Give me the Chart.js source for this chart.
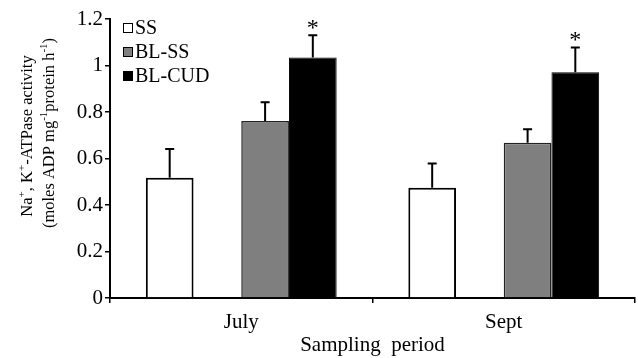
<!DOCTYPE html>
<html lang="en">
<head>
  <meta charset="utf-8">
  <title>ATPase activity</title>
  <script src="https://cdn.jsdelivr.net/npm/chart.js@4"></script>
  <style>
    body { margin: 0; background: #fff; }
    #wrap { width: 638px; height: 358px; }
  </style>
</head>
<body>
  <div id="wrap"><canvas id="myChart"></canvas></div>
  <script>
    // values
    const categories = ['July', 'Sept'];
    const ssMean = [0.517, 0.474];
    const ssErr = [0.124, 0.104];
    const blssMean = [0.761, 0.668];
    const blssErr = [0.081, 0.058];
    const blcudMean = [1.034, 0.971];
    const blcudErr = [0.096, 0.106];
    const blcudStar = [true, true];
    const yTicks = [0, 0.2, 0.4, 0.6, 0.8, 1, 1.2];

    const serif = "'Liberation Serif', 'Times New Roman', serif";

    // error bars + asterisks
    const errorBars = {
      id: 'errorBars',
      afterDatasetsDraw(chart) {
        const ctx = chart.ctx;
        const y = chart.scales.y;
        ctx.save();
        ctx.strokeStyle = '#000';
        ctx.fillStyle = '#000';
        ctx.lineWidth = 2;
        chart.data.datasets.forEach((ds, i) => {
          if (!ds.errors) return;
          chart.getDatasetMeta(i).data.forEach((bar, j) => {
            const top = y.getPixelForValue(ds.data[j] + ds.errors[j]);
            ctx.beginPath();
            ctx.moveTo(bar.x, bar.y);
            ctx.lineTo(bar.x, top);
            ctx.moveTo(bar.x - 4.5, top);
            ctx.lineTo(bar.x + 4.5, top);
            ctx.stroke();
            if (ds.stars && ds.stars[j]) {
              ctx.font = '24px ' + serif;
              ctx.textAlign = 'center';
              ctx.textBaseline = 'middle';
              ctx.fillText('*', bar.x, top - 7);
            }
          });
        });
        ctx.restore();
      }
    };

    // legend inside the plot, top left
    const boxLegend = {
      id: 'boxLegend',
      afterDraw(chart) {
        const ctx = chart.ctx;
        ctx.save();
        ctx.font = '20px ' + serif;
        ctx.textBaseline = 'middle';
        ctx.textAlign = 'left';
        let row = 0;
        chart.data.datasets.forEach(ds => {
          if (!ds.label) return;
          const cy = 28 + row * 24;
          ctx.fillStyle = ds.backgroundColor;
          ctx.fillRect(123.5, cy - 4.5, 9, 9);
          ctx.strokeStyle = '#000';
          ctx.lineWidth = 1;
          ctx.strokeRect(123.5, cy - 4.5, 9, 9);
          ctx.fillStyle = '#000';
          ctx.fillText(ds.label, 135, cy + 1);
          row++;
        });
        ctx.restore();
      }
    };

    // two-line rotated y title with superscripts
    function richLine(ctx, parts, bx, cy) {
      const big = '16.5px ' + serif, small = '11px ' + serif;
      let w = 0;
      parts.forEach(p => { ctx.font = p.sup ? small : big; w += ctx.measureText(p.t).width; });
      ctx.save();
      ctx.translate(bx, cy);
      ctx.rotate(-Math.PI / 2);
      let u = -w / 2;
      parts.forEach(p => {
        ctx.font = p.sup ? small : big;
        ctx.fillText(p.t, u, p.sup ? -7 : 0);
        u += ctx.measureText(p.t).width;
      });
      ctx.restore();
    }
    const yTitle = {
      id: 'yTitle',
      afterDraw(chart) {
        const ctx = chart.ctx;
        ctx.save();
        ctx.fillStyle = '#000';
        ctx.textBaseline = 'alphabetic';
        ctx.textAlign = 'left';
        richLine(ctx, [{t: 'Na'}, {t: '+', sup: true}, {t: ', K'}, {t: '+', sup: true}, {t: '-ATPase activity'}], 32, 136);
        richLine(ctx, [{t: '(moles ADP mg'}, {t: '-1', sup: true}, {t: 'protein h'}, {t: '-1', sup: true}, {t: ')'}], 54, 133);
        ctx.restore();
      }
    };

    new Chart(document.getElementById('myChart'), {
      type: 'bar',
      data: {
        labels: categories,
        datasets: [
          { label: 'SS', data: ssMean, errors: ssErr, backgroundColor: '#ffffff', borderColor: '#000', borderWidth: 2 },
          { label: '', data: [null, null], backgroundColor: 'rgba(0,0,0,0)' },
          { label: 'BL-SS', data: blssMean, errors: blssErr, backgroundColor: '#7f7f7f', borderColor: '#222', borderWidth: 1.5 },
          { label: 'BL-CUD', data: blcudMean, errors: blcudErr, stars: blcudStar, backgroundColor: '#000000', borderColor: '#000', borderWidth: 1 }
        ]
      },
      options: {
        responsive: true,
        maintainAspectRatio: false,
        animation: false,
        layout: { padding: { top: 19, right: 3, bottom: 0, left: 0 } },
        datasets: { bar: { categoryPercentage: 0.727, barPercentage: 1 } },
        plugins: { legend: { display: false }, tooltip: { enabled: false } },
        scales: {
          x: {
            grid: { drawOnChartArea: false, tickLength: 5, color: '#000', lineWidth: 1.5 },
            border: { color: '#000', width: 2 },
            ticks: { color: '#000', font: { family: serif, size: 21 }, padding: 7 },
            title: { display: true, text: 'Sampling  period', color: '#000', font: { family: serif, size: 21 }, padding: 0 },
            afterFit(s) { s.height = 60; }
          },
          y: {
            min: 0, max: 1.2,
            afterBuildTicks(s) { s.ticks = yTicks.map(v => ({ value: v })); },
            grid: { drawOnChartArea: false, tickLength: 5, color: '#000', lineWidth: 1.5 },
            border: { color: '#000', width: 2 },
            ticks: { color: '#000', font: { family: serif, size: 21 }, padding: 2, callback: v => String(+v.toFixed(1)) },
            afterFit(s) { s.width = 110; }
          }
        }
      },
      plugins: [errorBars, boxLegend, yTitle]
    });
  </script>
</body>
</html>
